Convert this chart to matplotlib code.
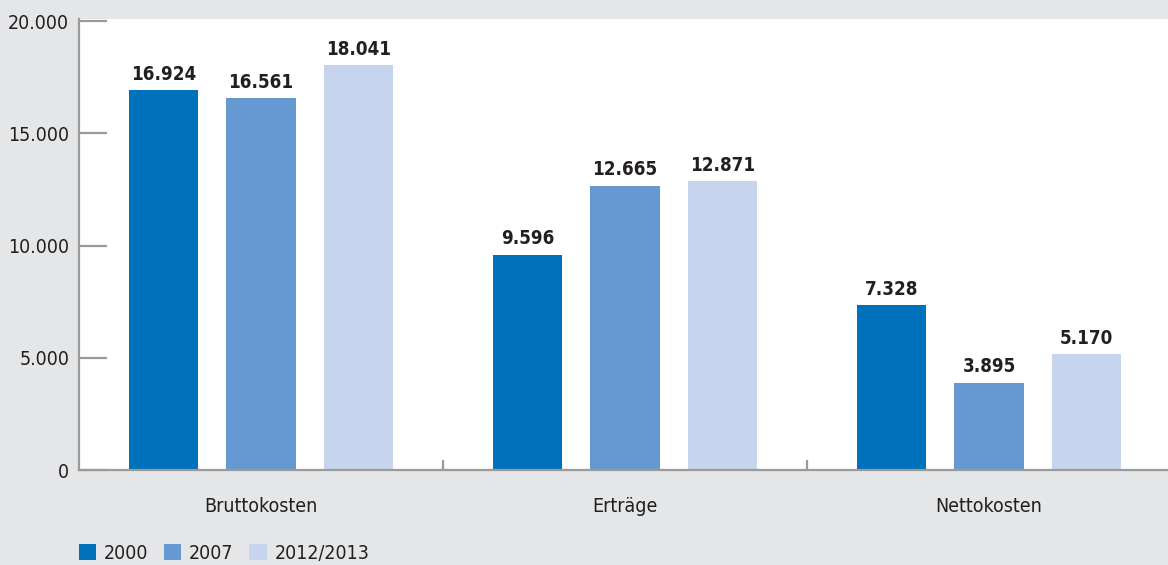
import matplotlib
matplotlib.use("Agg")
import matplotlib.pyplot as plt
from matplotlib.patches import Patch
import numpy as np

categories = ["Bruttokosten", "Erträge", "Nettokosten"]
series = ["2000", "2007", "2012/2013"]
values_2000 = [16924, 9596, 7328]
values_2007 = [16561, 12665, 3895]
values_2012 = [18041, 12871, 5170]
yticks = [0, 5000, 10000, 15000, 20000]

colors = ["#0071bb", "#6699d1", "#c6d4ed"]
bg = "#e5e6e8"
axis_grey = "#9a9a9a"
text_col = "#231f20"

plt.rcParams["font.family"] = ["DejaVu Sans"]
plt.rcParams["font.stretch"] = "condensed"


def fmt(v):
    return f"{v:,}".replace(",", ".")


fig = plt.figure(figsize=(11.68, 5.65), dpi=100, facecolor=bg)
ax = fig.add_axes([79 / 1168, 1 - 470 / 565, 1092 / 1168, 451 / 565])
ax.set_facecolor("white")

x = np.arange(len(categories)) + 0.5
width = 0.19
step = 0.268
for i, (name, vals) in enumerate(zip(series, [values_2000, values_2007, values_2012])):
    pos = x + (i - 1) * step
    bars = ax.bar(pos, vals, width, color=colors[i], label=name, zorder=2)
    for b, v in zip(bars, vals):
        ax.text(b.get_x() + b.get_width() / 2, v + 280, fmt(v), ha="center", va="bottom",
                fontsize=13.5, fontweight="bold", color=text_col)

ax.set_xlim(0, 3)
ax.set_ylim(0, 20090)

for s in ["top", "right"]:
    ax.spines[s].set_visible(False)
for s in ["left", "bottom"]:
    ax.spines[s].set_color(axis_grey)
    ax.spines[s].set_linewidth(1.6)

ax.set_yticks(yticks)
ax.set_yticklabels([fmt(t) for t in yticks], fontsize=14, color=text_col)
ax.tick_params(axis="y", direction="in", length=20, width=1.6, color=axis_grey, pad=7)

# group separators on the x axis
ax.set_xticks([1, 2])
ax.set_xticklabels([])
ax.tick_params(axis="x", direction="in", length=7, width=1.6, color=axis_grey)
for xi, c in zip(x, categories):
    ax.text(xi, -0.082, c, transform=ax.get_xaxis_transform(), ha="center", va="center",
            fontsize=14, color=text_col)

handles = [Patch(facecolor=c, edgecolor="none") for c in colors]
fig.legend(handles, series, loc="lower left", bbox_to_anchor=(61 / 1168, -0.027), ncol=3,
           frameon=False, fontsize=14, handlelength=0.9, handleheight=0.9,
           handletextpad=0.4, columnspacing=0.8, labelcolor=text_col)

fig.savefig("out.png", dpi=100, facecolor=bg)
